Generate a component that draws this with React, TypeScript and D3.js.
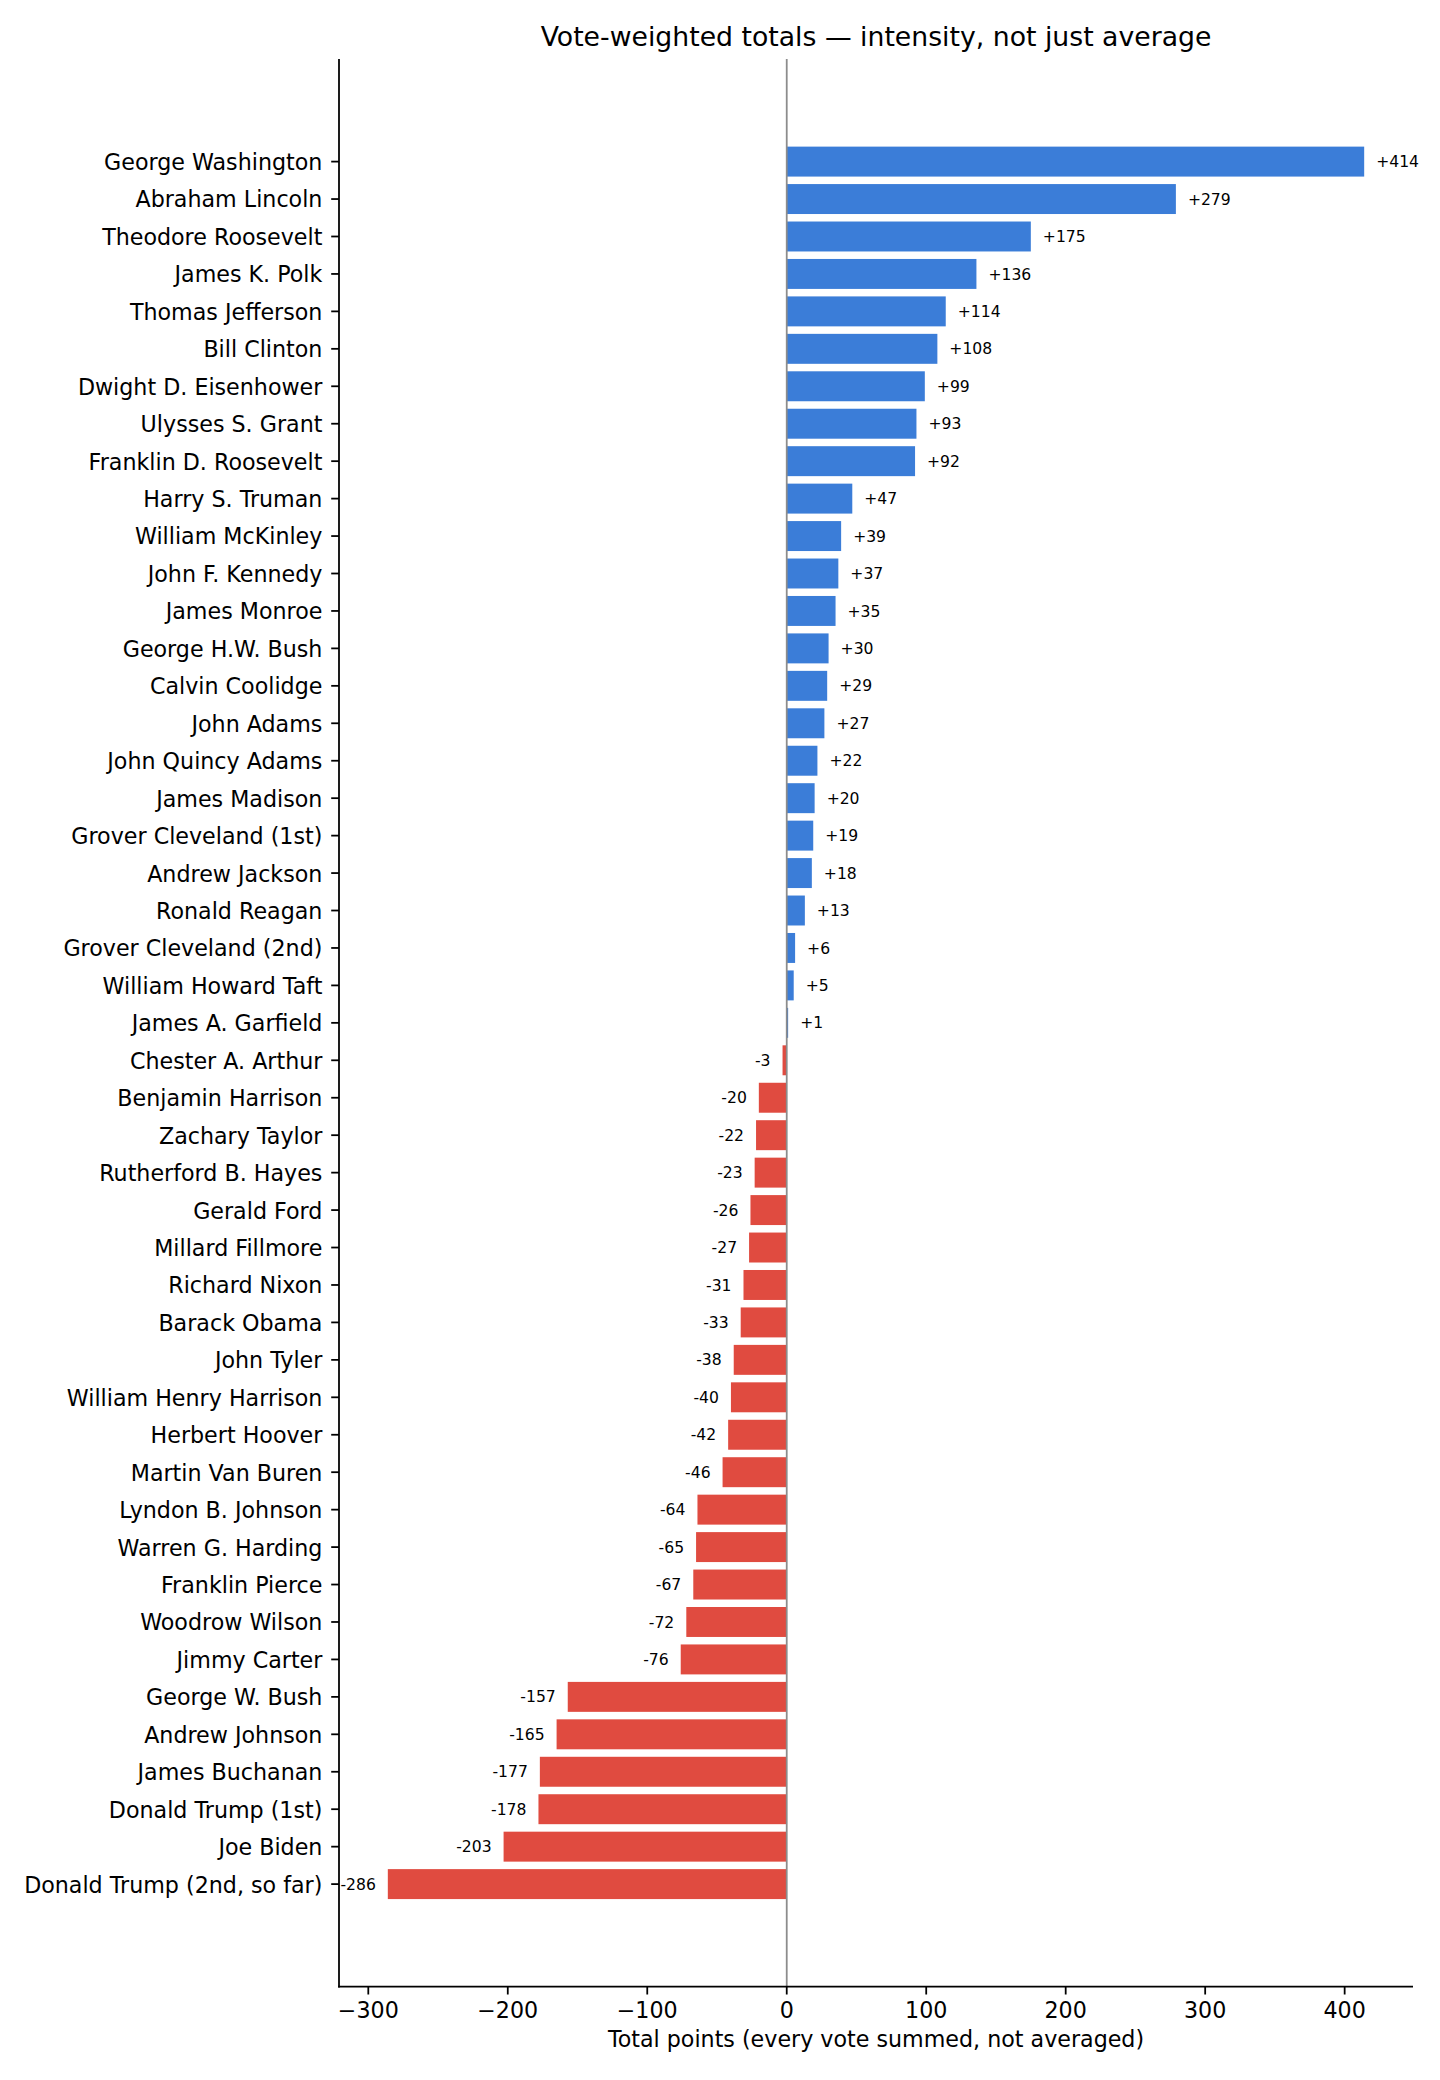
import * as d3 from "d3";

const names = [
  "George Washington", "Abraham Lincoln", "Theodore Roosevelt", "James K. Polk",
  "Thomas Jefferson", "Bill Clinton", "Dwight D. Eisenhower", "Ulysses S. Grant",
  "Franklin D. Roosevelt", "Harry S. Truman", "William McKinley", "John F. Kennedy",
  "James Monroe", "George H.W. Bush", "Calvin Coolidge", "John Adams",
  "John Quincy Adams", "James Madison", "Grover Cleveland (1st)", "Andrew Jackson",
  "Ronald Reagan", "Grover Cleveland (2nd)", "William Howard Taft", "James A. Garfield",
  "Chester A. Arthur", "Benjamin Harrison", "Zachary Taylor", "Rutherford B. Hayes",
  "Gerald Ford", "Millard Fillmore", "Richard Nixon", "Barack Obama",
  "John Tyler", "William Henry Harrison", "Herbert Hoover", "Martin Van Buren",
  "Lyndon B. Johnson", "Warren G. Harding", "Franklin Pierce", "Woodrow Wilson",
  "Jimmy Carter", "George W. Bush", "Andrew Johnson", "James Buchanan",
  "Donald Trump (1st)", "Joe Biden", "Donald Trump (2nd, so far)",
];

const totals = [
  414, 279, 175, 136, 114, 108, 99, 93, 92, 47, 39, 37, 35, 30, 29, 27,
  22, 20, 19, 18, 13, 6, 5, 1, -3, -20, -22, -23, -26, -27, -31, -33,
  -38, -40, -42, -46, -64, -65, -67, -72, -76, -157, -165, -177, -178, -203, -286,
];

const xTicks = [-300, -200, -100, 0, 100, 200, 300, 400];

const W = 1440;
const H = 2080;
const margin = { left: 339, right: 27, top: 59, bottom: 93.3 };
const FONT = "DejaVu Sans, sans-serif";
const BLUE = "#3b7dd8";
const RED = "#e04b40";
const TICK = 7.8;
const LW = 1.78;

export default function App() {
  const x0 = margin.left;
  const x1 = W - margin.right;
  const y0 = margin.top;
  const y1 = H - margin.bottom;

  const n = names.length;
  const pad = (n - 1 + 0.8) * 0.05 + 0.4;
  const x = d3.scaleLinear().domain([-321, 449]).range([x0, x1]);
  const y = d3.scaleLinear().domain([-pad, n - 1 + pad]).range([y0, y1]);
  const barH = y(0.8) - y(0);

  return (
    <div style={{ position: "absolute", left: 0, top: 0 }}>
      <svg width={W} height={H} style={{ display: "block", background: "#fff" }} fontFamily={FONT}>
        <text x={(x0 + x1) / 2} y={45.7} textAnchor="middle" fontSize={26.7} fill="#000">
          Vote-weighted totals — intensity, not just average
        </text>

        {totals.map((v, i) => (
          <rect
            key={names[i]}
            x={x(Math.min(0, v))}
            y={y(i) - barH / 2}
            width={Math.abs(x(v) - x(0))}
            height={barH}
            fill={v >= 0 ? BLUE : RED}
          />
        ))}

        <line x1={x(0)} x2={x(0)} y1={y0} y2={y1} stroke="#8c8c8c" strokeWidth={1.78} />

        {totals.map((v, i) => (
          <text
            key={"v" + i}
            x={v >= 0 ? x(v) + 12 : x(v) - 12}
            y={y(i)}
            dy="0.36em"
            textAnchor={v >= 0 ? "start" : "end"}
            fontSize={15.6}
            fill="#000"
          >
            {v >= 0 ? `+${v}` : `${v}`}
          </text>
        ))}

        {/* y axis */}
        <line x1={x0} x2={x0} y1={y0} y2={y1 + LW / 2} stroke="#000" strokeWidth={LW} />
        {names.map((name, i) => (
          <g key={"t" + i}>
            <line x1={x0 - TICK} x2={x0} y1={y(i)} y2={y(i)} stroke="#000" strokeWidth={LW} />
            <text x={x0 - 2 * TICK - 1} y={y(i)} dy="0.38em" textAnchor="end" fontSize={22.2} fill="#000">
              {name}
            </text>
          </g>
        ))}

        {/* x axis */}
        <line x1={x0 - LW / 2} x2={x1} y1={y1} y2={y1} stroke="#000" strokeWidth={LW} />
        {xTicks.map((t) => (
          <g key={"x" + t}>
            <line x1={x(t)} x2={x(t)} y1={y1} y2={y1 + TICK} stroke="#000" strokeWidth={LW} />
            <text x={x(t)} y={y1 + 31} textAnchor="middle" fontSize={22.2} fill="#000">
              {t < 0 ? `\u2212${Math.abs(t)}` : t}
            </text>
          </g>
        ))}
        <text x={(x0 + x1) / 2} y={2046.7} textAnchor="middle" fontSize={22.2} fill="#000">
          Total points (every vote summed, not averaged)
        </text>
      </svg>
    </div>
  );
}
